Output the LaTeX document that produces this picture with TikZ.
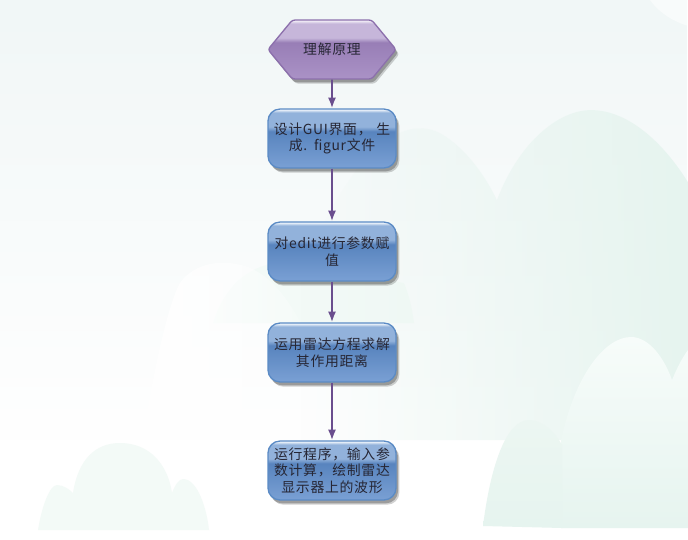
\documentclass[tikz,border=0pt]{standalone}
\usepackage{fontspec}
\setmainfont[LetterSpace=5]{Noto Sans CJK SC}
\usetikzlibrary{arrows.meta,shapes,shadows,fadings}
\tikzset{>=latex}
\definecolor{skyback}{RGB}{241,247,247}
\definecolor{hillgreen}{RGB}{230,244,239}
\definecolor{hillpale}{RGB}{243,250,247}
\definecolor{hilltop}{RGB}{247,252,250}
\definecolor{humpgreen}{RGB}{236,246,242}
\definecolor{boxline}{RGB}{91,139,197}
\definecolor{hexline}{RGB}{140,112,172}
\definecolor{flowline}{RGB}{106,78,142}
\definecolor{labelink}{RGB}{38,38,52}
\definecolor{bluelow}{RGB}{122,160,212}
\definecolor{bluemid}{RGB}{88,132,190}
\definecolor{blueglow}{RGB}{146,178,219}
\definecolor{bluetop}{RGB}{238,244,251}
\definecolor{purplelow}{RGB}{170,146,198}
\definecolor{purplemid}{RGB}{152,126,182}
\definecolor{purpleglow}{RGB}{198,182,218}
\definecolor{purpletop}{RGB}{242,237,247}
\pgfdeclareverticalshading{glossblue}{100bp}{
  color(0bp)=(bluelow);
  color(25bp)=(bluelow);
  color(56bp)=(bluemid);
  color(60bp)=(blueglow);
  color(72bp)=(blueglow);
  color(74.5bp)=(bluetop);
  color(75bp)=(bluetop);
  color(100bp)=(bluetop)}
\pgfdeclareverticalshading{glosspurple}{100bp}{
  color(0bp)=(purplelow);
  color(25bp)=(purplelow);
  color(56bp)=(purplemid);
  color(60bp)=(purpleglow);
  color(72bp)=(purpleglow);
  color(74.5bp)=(purpletop);
  color(75bp)=(purpletop);
  color(100bp)=(purpletop)}
\tikzset{
  softshadow/.style={
    drop shadow={shadow xshift=1.5pt,shadow yshift=-2.5pt,fill=black,opacity=.25},
    drop shadow={shadow xshift=2.5pt,shadow yshift=-3.5pt,fill=black,opacity=.18}},
  flowbox/.style={rectangle,rounded corners=9pt,draw=boxline,line width=1pt,shading=glossblue,
    softshadow,minimum width=96pt,minimum height=44.2pt,inner sep=0pt,
    text width=92pt,align=center,text=labelink,font=\fontsize{10.4}{12.5}\selectfont},
  starthex/.style={signal,signal to=west and east,signal pointer angle=101,rounded corners=2pt,
    draw=hexline,line width=1pt,shading=glosspurple,softshadow,minimum width=96pt,minimum height=44.2pt,
    inner sep=0pt,text=labelink,font=\fontsize{10.4}{12.5}\selectfont},
  flowarrow/.style={-{Latex[length=8pt,width=6pt]},flowline,line width=1.4pt}
}

\begin{document}
\begin{tikzpicture}[x=0.75pt,y=-0.75pt,>=latex]
      \useasboundingbox (0,0) rectangle (688,539);
      % background
      \fill [white] (0,0) rectangle (688,539);
      \fill [skyback, path fading=south] (0,0) rectangle (688,440);
      % hills behind the boxes
      \fill [white, opacity=.5] (650,0) .. controls (660,14) and (675,22) .. (688,26) -- (688,0) -- cycle;
      \fill [hillpale] (213,323) .. controls (225,285) and (250,262) .. (290,262) -- (404,283) .. controls (409,295) and (412,308) .. (414,323) -- cycle;
      \fill [white, path fading=east] (143,440) .. controls (155,360) and (170,300) .. (180,283) .. controls (195,262) and (225,258) .. (250,268) .. controls (290,285) and (320,350) .. (340,440) -- cycle;
      \fill [hillgreen, path fading=west] (300,440) -- (300,280) .. controls (340,170) and (395,110) .. (440,133) .. controls (465,147) and (485,175) .. (497,200) .. controls (520,140) and (560,110) .. (591,110) .. controls (630,110) and (665,145) .. (688,182) -- (688,440) -- cycle;
      \shade [top color=hilltop, bottom color=hillgreen] (561,528) -- (561,440) .. controls (575,375) and (605,337) .. (631,337) .. controls (650,337) and (665,360) .. (672,380) .. controls (677,368) and (682,358) .. (688,350) -- (688,528) -- cycle;
      \shade [top color=humpgreen, bottom color=hillgreen] (483,526) .. controls (490,470) and (505,420) .. (529,420) .. controls (542,420) and (555,432) .. (562,445) -- (562,528) -- cycle;
      \fill [hillpale] (38,530) .. controls (42,505) and (50,485) .. (57,485) .. controls (64,485) and (70,490) .. (73,493) .. controls (78,460) and (95,443) .. (120,443) .. controls (150,443) and (168,465) .. (172,493) .. controls (175,485) and (179,479) .. (183,479) .. controls (198,479) and (207,510) .. (209,530) -- cycle;
      % flow chart
      \node [starthex] (principle) at (332,49.5) {理解原理};
      \node [flowbox] (design) at (332,138.5) {设计GUI界面， 生\\成. figur文件};
      \node [flowbox] (assign) at (332,251.5) {对edit进行参数赋\\值};
      \node [flowbox] (solve) at (332,352.5) {运用雷达方程求解\\其作用距离};
      \node [flowbox] (run) at (332,470.5) {运行程序，输入参\\数计算，绘制雷达\\显示器上的波形};
      % arrows
      \draw [flowarrow] (principle) -- (design);
      \draw [flowarrow] (design) -- (assign);
      \draw [flowarrow] (assign) -- (solve);
      \draw [flowarrow] (solve) -- (run);
    \end{tikzpicture}
\end{document}
